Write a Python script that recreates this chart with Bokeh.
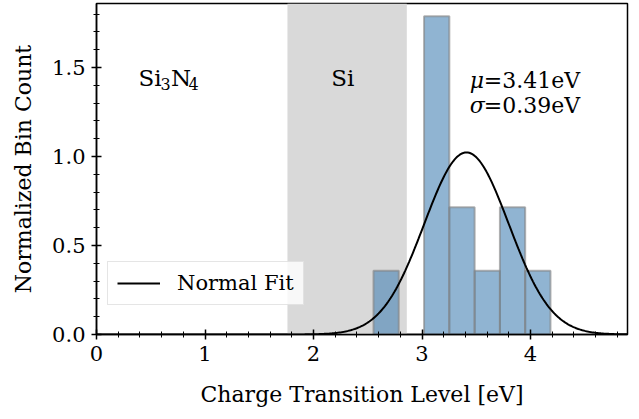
import numpy as np
from bokeh.plotting import figure
from bokeh.models import BoxAnnotation, Label, Legend, LegendItem, FixedTicker, Range1d, PrintfTickFormatter
from bokeh.embed import file_html
from bokeh.resources import INLINE

# Data
bin_start = 2.553
bin_width = 0.233
bin_counts = [1, 0, 5, 2, 1, 2, 1]
fit_mu = 3.41
fit_sigma = 0.39
si_band = (1.76, 2.86)
x_ticks = [0, 1, 2, 3, 4]
y_ticks = [0.0, 0.5, 1.0, 1.5]

FONT = "DejaVu Serif"

counts = np.array(bin_counts, dtype=float)
edges = bin_start + bin_width * np.arange(len(counts) + 1)
heights = counts / (counts.sum() * bin_width)

XMAX = 4.894
p = figure(width=639, height=419, output_backend="svg", toolbar_location=None,
           x_range=Range1d(0, XMAX), y_range=Range1d(0, 1.86),
           min_border_left=96, min_border_right=12, min_border_top=3, min_border_bottom=85)
p.xgrid.visible = False
p.ygrid.visible = False
p.outline_line_color = "black"
p.outline_line_width = 1.5
p.outline_line_alpha = 1.0

band = BoxAnnotation(left=si_band[0], right=si_band[1], fill_color="#d9d9d9", fill_alpha=1.0,
                     line_color=None, level="underlay")
p.add_layout(band)

p.quad(left=edges[:-1], right=edges[1:], bottom=0, top=heights,
       fill_color="#4682b4", fill_alpha=0.6, line_color="#808080", line_alpha=0.6, line_width=2)

xs = np.linspace(0, XMAX, 400)
ys = np.exp(-0.5 * ((xs - fit_mu) / fit_sigma) ** 2) / (fit_sigma * np.sqrt(2 * np.pi))
r = p.line(xs, ys, line_color="black", line_width=2)

legend = Legend(items=[LegendItem(label="Normal Fit", renderers=[r])], location=(11, 29))
legend.label_text_font = FONT
legend.label_text_font_size = "21px"
legend.label_text_color = "black"
legend.border_line_color = "#cccccc"
legend.border_line_width = 1.5
legend.background_fill_alpha = 0.8
legend.glyph_width = 43
legend.label_standoff = 17
legend.padding = 9
legend.margin = 0
p.add_layout(legend)

for ax in (p.xaxis[0], p.yaxis[0]):
    ax.axis_line_width = 1.5
    ax.major_tick_line_width = 1.5
    ax.minor_tick_line_width = 1.0
    ax.major_tick_in = 5
    ax.major_tick_out = 5
    ax.minor_tick_in = 3
    ax.minor_tick_out = 3
    ax.major_label_text_font = FONT
    ax.major_label_text_font_size = "21px"
    ax.major_label_text_color = "black"
    ax.axis_label_text_font = FONT
    ax.axis_label_text_font_size = "22px"
    ax.axis_label_text_font_style = "normal"
    ax.axis_label_text_color = "black"

p.xaxis.ticker = FixedTicker(ticks=x_ticks, minor_ticks=[round(0.2 * i, 1) for i in range(25)])
p.yaxis.ticker = FixedTicker(ticks=y_ticks, minor_ticks=[round(0.1 * i, 1) for i in range(19)])
p.yaxis.formatter = PrintfTickFormatter(format="%.1f")
p.xaxis.axis_label = "Charge Transition Level [eV]"
p.yaxis.axis_label = "Normalized Bin Count"
p.xaxis.major_label_standoff = 6
p.yaxis.major_label_standoff = 6
p.xaxis.axis_label_standoff = 18
p.yaxis.axis_label_standoff = 13

def lab(x, y, text, align="left", style="normal", size="22px", xo=0, yo=0):
    p.add_layout(Label(x=x, y=y, text=text, text_font=FONT, text_font_size=size,
                       text_align=align, text_baseline="middle", text_font_style=style,
                       text_color="black", x_offset=xo, y_offset=yo))

# Si3N4 composed with real subscripts
sx, sy = 0.386, 1.44
lab(sx, sy, "Si", size="23px")
lab(sx, sy, "3", size="16px", xo=22, yo=-6)
lab(sx, sy, "N", size="23px", xo=32.5)
lab(sx, sy, "4", size="16px", xo=50, yo=-6)

lab(2.27, 1.44, "Si", align="center", size="23px")
lab(3.44, 1.43, "μ", style="italic")
lab(3.44, 1.43, "=3.41eV", xo=14)
lab(3.44, 1.285, "σ", style="italic")
lab(3.44, 1.285, "=0.39eV", xo=14)

open("out.html", "w").write(file_html(p, INLINE))
